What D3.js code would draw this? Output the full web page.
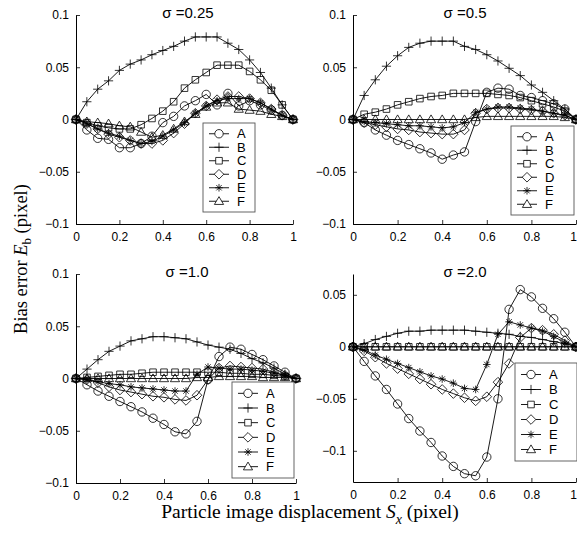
<!DOCTYPE html>
<html><head><meta charset="utf-8">
<script src="https://cdn.jsdelivr.net/npm/d3@7"></script>
<style>body{margin:0;background:#fff} svg{display:block}</style>
</head><body><svg id="c" width="577" height="539"></svg>
<script>
// ---- data ----
const xVals = [0,0.05,0.1,0.15,0.2,0.25,0.3,0.35,0.4,0.45,0.5,0.55,0.6,0.65,0.7,0.75,0.8,0.85,0.9,0.95,1];
const seriesNames = ["A","B","C","D","E","F"];
const markerTypes = ["circle","plus","square","diamond","asterisk","triangle"];
const panelTitles = ["σ =0.25","σ =0.5","σ =1.0","σ =2.0"];
const xTicks = [0,0.2,0.4,0.6,0.8,1];
const yTicksStd = [-0.1,-0.05,0,0.05,0.1];
const yTicksLast = [-0.1,-0.05,0,0.05];

// sigma = 0.25
const a025 = [0,-0.010,-0.018,-0.019,-0.027,-0.027,-0.023,-0.016,-0.003,0.003,0.013,0.018,0.024,0.014,0.025,0.013,0.018,0.014,0.009,0.004,0];
const b025 = [0,0.017,0.029,0.037,0.047,0.053,0.057,0.062,0.066,0.070,0.075,0.079,0.079,0.079,0.073,0.067,0.057,0.045,0.030,0.014,0];
const c025 = [0,-0.003,-0.006,-0.008,-0.009,-0.009,-0.005,0.001,0.008,0.017,0.030,0.038,0.045,0.052,0.052,0.052,0.046,0.038,0.028,0.014,0];
const d025 = [0,-0.004,-0.009,-0.014,-0.017,-0.020,-0.023,-0.023,-0.020,-0.013,-0.004,0.006,0.013,0.019,0.022,0.022,0.020,0.016,0.010,0.004,0];
const e025 = [0,-0.004,-0.009,-0.013,-0.016,-0.020,-0.023,-0.021,-0.016,-0.010,-0.003,0.006,0.013,0.018,0.020,0.020,0.020,0.016,0.010,0.004,0];
const f025 = [0,-0.002,-0.003,-0.004,-0.006,-0.007,-0.012,-0.017,-0.015,-0.009,-0.002,0.005,0.012,0.016,0.016,0.010,0.009,0.008,0.005,0.003,0];

// sigma = 0.5
const a05 = [0,-0.003,-0.010,-0.015,-0.020,-0.024,-0.028,-0.032,-0.038,-0.034,-0.031,-0.002,0.026,0.030,0.029,0.023,0.021,0.018,0.015,0.010,0];
const b05 = [0,0.023,0.038,0.051,0.061,0.069,0.073,0.075,0.075,0.075,0.070,0.067,0.062,0.056,0.049,0.042,0.033,0.026,0.018,0.010,0];
const c05 = [0,0.005,0.007,0.010,0.014,0.017,0.020,0.022,0.023,0.025,0.025,0.025,0.025,0.024,0.023,0.021,0.018,0.015,0.012,0.008,0];
const d05 = [0,-0.003,-0.005,-0.007,-0.009,-0.010,-0.012,-0.013,-0.014,-0.014,-0.010,0.006,0.010,0.011,0.011,0.010,0.009,0.008,0.006,0.004,0];
const e05 = [0,-0.002,-0.003,-0.004,-0.005,-0.006,-0.006,-0.007,-0.008,-0.007,-0.003,0.007,0.010,0.012,0.012,0.011,0.010,0.008,0.006,0.004,0];
const f05 = [0,0,0,0,0,0,0,0,0,0,0,0.002,0.003,0.003,0.003,0.003,0.003,0.003,0.003,0.002,0];

// sigma = 1.0
const a10 = [0,-0.006,-0.012,-0.017,-0.022,-0.027,-0.032,-0.038,-0.044,-0.051,-0.053,-0.041,-0.001,0.021,0.030,0.028,0.023,0.018,0.012,0.006,0];
const b10 = [0,0.009,0.018,0.026,0.031,0.036,0.038,0.040,0.040,0.039,0.038,0.035,0.032,0.030,0.028,0.024,0.019,0.015,0.010,0.004,0];
const c10 = [0,0.001,0.002,0.003,0.004,0.004,0.005,0.006,0.006,0.006,0.006,0.006,0.006,0.006,0.005,0.005,0.004,0.004,0.003,0.002,0];
const d10 = [0,-0.001,-0.004,-0.008,-0.011,-0.013,-0.015,-0.017,-0.018,-0.020,-0.021,-0.016,-0.001,0.010,0.012,0.011,0.010,0.009,0.006,0.003,0];
const e10 = [0,-0.001,-0.003,-0.005,-0.006,-0.008,-0.009,-0.010,-0.011,-0.012,-0.012,0.004,0.011,0.010,0.009,0.009,0.008,0.007,0.005,0.003,0];
const f10 = [0,0,0,0,0,0,0,0,0,0,0,0.001,0.001,0.002,0.002,0.002,0.002,0.001,0.001,0.001,0];

// sigma = 2.0
const a20 = [0,-0.014,-0.028,-0.041,-0.055,-0.069,-0.081,-0.092,-0.105,-0.115,-0.122,-0.124,-0.106,-0.050,0.036,0.055,0.048,0.037,0.027,0.014,0];
const b20 = [0,0.003,0.007,0.010,0.013,0.015,0.015,0.016,0.016,0.016,0.016,0.015,0.014,0.013,0.012,0.010,0.009,0.007,0.005,0.003,0];
const c20 = [0,0,0,0,0,0,0,0,0,0,0,0,0,0,0,0,0,0,0,0,0];
const d20 = [0,-0.004,-0.010,-0.016,-0.021,-0.026,-0.031,-0.036,-0.041,-0.045,-0.049,-0.052,-0.048,-0.034,-0.016,0.009,0.018,0.016,0.012,0.006,0];
const e20 = [0,-0.003,-0.008,-0.012,-0.016,-0.020,-0.024,-0.028,-0.031,-0.035,-0.040,-0.041,-0.017,0.012,0.024,0.021,0.018,0.015,0.010,0.004,0];
const f20 = [0,0,0,0,0,0,0,0,0,0,0,0,0,0,0,0,0,0,0,0,0];

// ---- layout ----
const panels = [
  {title: panelTitles[0], series: [a025,b025,c025,d025,e025,f025], xr:[76,293], yr:[224,15], yd:[-0.1,0.1], yt:yTicksStd, tx:188, ty:18, lg:{x:203,y:123,w:52,h:89}},
  {title: panelTitles[1], series: [a05,b05,c05,d05,e05,f05], xr:[353,576], yr:[224,15], yd:[-0.1,0.1], yt:yTicksStd, tx:465, ty:18, lg:{x:511,y:126,w:63,h:89}},
  {title: panelTitles[2], series: [a10,b10,c10,d10,e10,f10], xr:[76,296], yr:[483,274], yd:[-0.1,0.1], yt:yTicksStd, tx:187, ty:277, lg:{x:232,y:382,w:62,h:96}},
  {title: panelTitles[3], series: [a20,b20,c20,d20,e20,f20], xr:[353,576], yr:[482,274], yd:[-0.13,0.07], yt:yTicksLast, tx:465, ty:277, lg:{x:515,y:363,w:62,h:98}}
];

function markerPath(type){
  const p = d3.path();
  if(type==="circle"){ p.moveTo(4.2,0); p.arc(0,0,4.2,0,2*Math.PI); }
  else if(type==="plus"){ p.moveTo(-4.6,0); p.lineTo(4.6,0); p.moveTo(0,-4.6); p.lineTo(0,4.6); }
  else if(type==="square"){ p.rect(-3.3,-3.3,6.6,6.6); }
  else if(type==="diamond"){ p.moveTo(0,-4.8); p.lineTo(4.8,0); p.lineTo(0,4.8); p.lineTo(-4.8,0); p.closePath(); }
  else if(type==="asterisk"){ const s=3.8, t=2.7; p.moveTo(-s,0); p.lineTo(s,0); p.moveTo(0,-s); p.lineTo(0,s); p.moveTo(-t,-t); p.lineTo(t,t); p.moveTo(-t,t); p.lineTo(t,-t); }
  else if(type==="triangle"){ p.moveTo(0,-4.6); p.lineTo(4.6,3.2); p.lineTo(-4.6,3.2); p.closePath(); }
  return p.toString();
}
const fmt = d => d===0 ? "0" : (d<0 ? "\u2212" : "") + Math.abs(d);

const svg = d3.select("#c");
const sans = "'Liberation Sans', Arial, Helvetica, sans-serif";
const serif = "'Liberation Serif', 'Times New Roman', serif";

panels.forEach(pn => {
  const x = d3.scaleLinear().domain([0,1]).range(pn.xr);
  const y = d3.scaleLinear().domain(pn.yd).range(pn.yr);
  const g = svg.append("g");

  const xAxis = d3.axisBottom(x).tickValues(xTicks).tickFormat(fmt).tickSizeInner(-4).tickSizeOuter(0).tickPadding(8);
  const gx = g.append("g").attr("transform", `translate(0,${pn.yr[0]})`).call(xAxis);
  const yAxis = d3.axisLeft(y).tickValues(pn.yt).tickFormat(fmt).tickSizeInner(-4).tickSizeOuter(0).tickPadding(7);
  const gy = g.append("g").attr("transform", `translate(${pn.xr[0]},0)`).call(yAxis);
  [gx, gy].forEach(a => {
    a.selectAll("text").attr("font-family", sans).attr("font-size", 12).attr("fill", "#000");
    a.selectAll("line").attr("stroke", "#000").attr("stroke-width", 0.8);
    a.select(".domain").attr("stroke", "#000").attr("stroke-width", 1);
  });
  // keep the last x tick label inside the picture when the axis reaches the edge
  if (pn.xr[1] > 570) {
    gx.selectAll(".tick text").filter(d => d === 1).attr("dx", -3);
  }

  g.append("text").attr("x", pn.tx).attr("y", pn.ty).attr("text-anchor","middle")
    .attr("font-family", sans).attr("font-size", 15).attr("fill","#000").text(pn.title);

  const line = d3.line().x((d,i) => x(xVals[i])).y(d => y(d));
  pn.series.forEach((vals, si) => {
    g.append("path").datum(vals).attr("d", line).attr("fill","none").attr("stroke","#000").attr("stroke-width",0.9);
    g.append("g").selectAll("path").data(vals).join("path")
      .attr("d", markerPath(markerTypes[si]))
      .attr("transform", (d,i) => `translate(${x(xVals[i])},${y(d)})`)
      .attr("fill","none").attr("stroke","#000").attr("stroke-width",0.8);
  });

  const L = pn.lg;
  const lg = g.append("g");
  lg.append("rect").attr("x", L.x).attr("y", L.y).attr("width", L.w).attr("height", L.h)
    .attr("fill","#fff").attr("stroke","#555").attr("stroke-width",0.9);
  const rowH = (L.h - 8) / seriesNames.length;
  seriesNames.forEach((nm, i) => {
    const cy = L.y + 4 + rowH * (i + 0.5);
    lg.append("line").attr("x1", L.x + 6).attr("x2", L.x + 26).attr("y1", cy).attr("y2", cy)
      .attr("stroke","#000").attr("stroke-width",0.9);
    lg.append("path").attr("d", markerPath(markerTypes[i])).attr("transform", `translate(${L.x+16},${cy})`)
      .attr("fill","#fff").attr("stroke","#000").attr("stroke-width",0.8);
    lg.append("text").attr("x", L.x + 34).attr("y", cy).attr("dy","0.36em")
      .attr("font-family", sans).attr("font-size", 13).attr("fill","#000").text(nm);
  });
});

// y label
const yl = svg.append("text").attr("transform","translate(27,259) rotate(-90)")
  .attr("text-anchor","middle").attr("font-family", serif).attr("font-size", 18.5).attr("fill","#000");
yl.append("tspan").text("Bias error  ");
yl.append("tspan").attr("font-style","italic").text("E");
yl.append("tspan").attr("font-size", 13).attr("dy", 4).text("b");
yl.append("tspan").attr("dy", -4).text(" (pixel)");

// x label
const xl = svg.append("text").attr("x", 310).attr("y", 518)
  .attr("text-anchor","middle").attr("font-family", serif).attr("font-size", 19.5).attr("fill","#000");
xl.append("tspan").text("Particle image displacement  ");
xl.append("tspan").attr("font-style","italic").text("S");
xl.append("tspan").attr("font-style","italic").attr("font-size", 14).attr("dy", 6).text("x");
xl.append("tspan").attr("dy", -6).text(" (pixel)");
</script></body></html>
